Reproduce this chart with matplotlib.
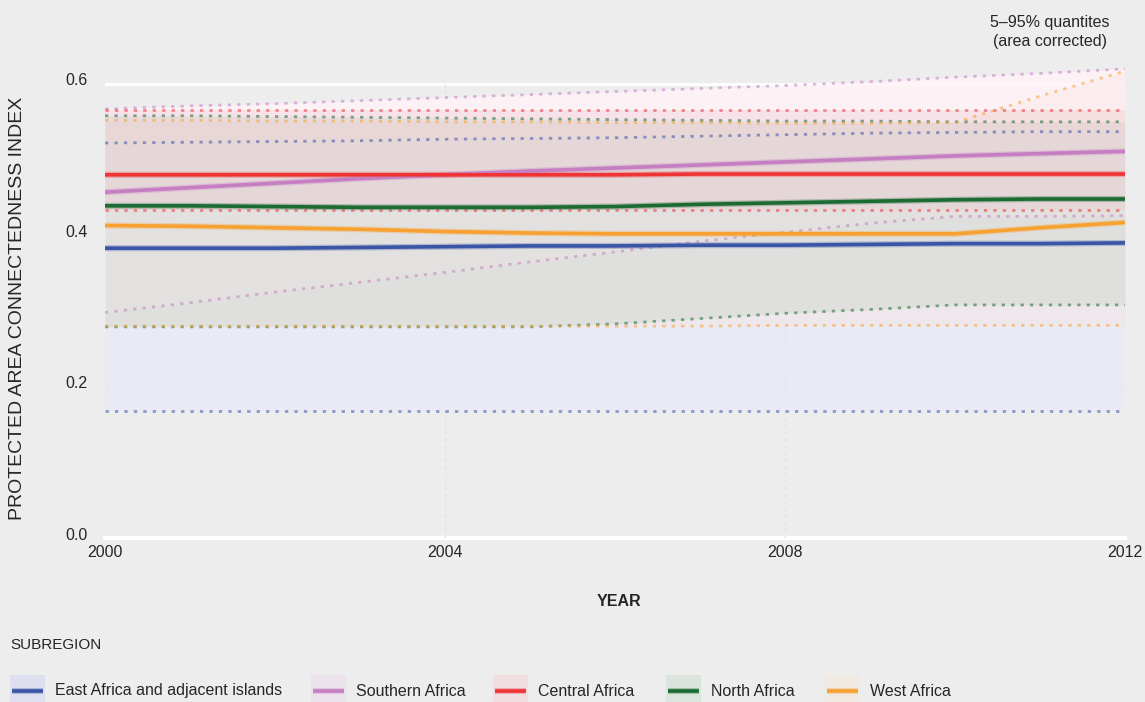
import matplotlib
matplotlib.use("Agg")
import matplotlib.pyplot as plt
import matplotlib.transforms as mtransforms
from matplotlib.patches import Rectangle
from matplotlib.lines import Line2D

plt.rcParams['font.family'] = ['Liberation Sans', 'DejaVu Sans']

# ---------------- data ----------------
years = [2000, 2001, 2002, 2003, 2004, 2005, 2006, 2007, 2008, 2009, 2010, 2011, 2012]

subregions = ["East Africa and adjacent islands", "Southern Africa", "Central Africa",
              "North Africa", "West Africa"]

east_median = [0.383, 0.383, 0.383, 0.384, 0.385, 0.386, 0.386, 0.387, 0.387, 0.388, 0.389, 0.389, 0.390]
east_p95 = [0.522, 0.523, 0.524, 0.525, 0.527, 0.528, 0.529, 0.531, 0.533, 0.535, 0.536, 0.537, 0.537]
east_p5 = [0.168, 0.168, 0.168, 0.168, 0.168, 0.168, 0.168, 0.168, 0.168, 0.168, 0.168, 0.168, 0.168]

south_median = [0.457, 0.463, 0.469, 0.475, 0.480, 0.485, 0.489, 0.493, 0.497, 0.501, 0.505, 0.508, 0.511]
south_p95 = [0.567, 0.571, 0.574, 0.578, 0.582, 0.586, 0.590, 0.594, 0.598, 0.603, 0.609, 0.614, 0.620]
south_p5 = [0.298, 0.311, 0.325, 0.338, 0.351, 0.365, 0.378, 0.392, 0.404, 0.416, 0.425, 0.425, 0.426]

central_median = [0.480, 0.480, 0.480, 0.480, 0.480, 0.480, 0.480, 0.481, 0.481, 0.481, 0.481, 0.481, 0.481]
central_p95 = [0.566, 0.566, 0.566, 0.566, 0.566, 0.566, 0.566, 0.566, 0.566, 0.566, 0.566, 0.566, 0.566]
central_p5 = [0.433, 0.433, 0.433, 0.433, 0.433, 0.433, 0.433, 0.433, 0.433, 0.433, 0.433, 0.433, 0.433]

north_median = [0.439, 0.439, 0.438, 0.437, 0.437, 0.437, 0.438, 0.441, 0.443, 0.445, 0.447, 0.448, 0.448]
north_p95 = [0.558, 0.558, 0.557, 0.556, 0.555, 0.554, 0.553, 0.552, 0.551, 0.551, 0.550, 0.550, 0.550]
north_p5 = [0.279, 0.279, 0.279, 0.279, 0.279, 0.279, 0.283, 0.290, 0.297, 0.302, 0.308, 0.308, 0.308]

west_median = [0.413, 0.412, 0.410, 0.408, 0.405, 0.403, 0.402, 0.402, 0.402, 0.402, 0.402, 0.410, 0.417]
west_p95 = [0.552, 0.552, 0.551, 0.551, 0.550, 0.550, 0.549, 0.549, 0.548, 0.548, 0.549, 0.584, 0.617]
west_p5 = [0.280, 0.280, 0.280, 0.280, 0.280, 0.280, 0.280, 0.280, 0.281, 0.281, 0.281, 0.281, 0.281]

x_ticks = [2000, 2004, 2008, 2012]
y_ticks = [0.0, 0.2, 0.4, 0.6]
y_tick_labels = ["0.0", "0.2", "0.4", "0.6"]

# ---------------- styles ----------------
line_colors = ["#3a55a6", "#c67ec2", "#ee3434", "#1c6b33", "#f8a133"]
fill_colors = [(233/255, 233/255, 253/255), (1.0, 244/255, 248/255), (235/255, 190/255, 200/255),
               (189/255, 209/255, 187/255), (250/255, 225/255, 218/255)]
fill_alphas = [0.5, 0.85, 0.3, 0.3, 0.3]
fill_order = [1, 0, 4, 3, 2]
legend_patch_colors = ["#dee0f0", "#ece2ec", "#f0dee0", "#dce4de", "#f0eae2"]

medians = [east_median, south_median, central_median, north_median, west_median]
p95s = [east_p95, south_p95, central_p95, north_p95, west_p95]
p5s = [east_p5, south_p5, central_p5, north_p5, west_p5]

BG = "#ededed"
TXT = "#262626"
W, H = 1145, 702

fig = plt.figure(figsize=(W / 100, H / 100), dpi=100, facecolor=BG)
ax = fig.add_axes([105 / W, 0.2336, 1020 / W, 0.6791])
ax.set_facecolor(BG)
ax.set_xlim(2000, 2012)
ax.set_ylim(0, 0.63)
for s in ax.spines.values():
    s.set_visible(False)

# grid
ax.axhline(0.0, color="white", lw=3, zorder=1, clip_on=False)
ax.axhline(0.6, color="white", lw=2, zorder=1)
for yv in [0.2, 0.4]:
    ax.axhline(yv, color="#e0e0e6", lw=1, ls=(0, (2, 3)), zorder=1)
for xv in [2004, 2008]:
    ax.plot([xv, xv], [0, 0.6], color="#e0e0e6", lw=1, ls=(0, (2, 3)), zorder=1)

# bands
for i in fill_order:
    ax.fill_between(years, p5s[i], p95s[i], color=fill_colors[i], alpha=fill_alphas[i],
                    lw=0, zorder=2)

# quantile dotted lines
for i in range(5):
    for q in (p95s[i], p5s[i]):
        ax.plot(years, q, color=line_colors[i], lw=2.0, ls=(0, (1.2, 2.2)), alpha=0.55,
                zorder=3, dash_capstyle="butt")

# medians
for i in range(5):
    ax.plot(years, medians[i], color=line_colors[i], lw=4.4, alpha=0.3, zorder=4,
            solid_capstyle="butt")
    ax.plot(years, medians[i], color=line_colors[i], lw=2.6, zorder=5, solid_capstyle="butt")

# ticks
ax.set_xticks(x_ticks)
ax.set_xticklabels([str(x) for x in x_ticks], fontsize=11.5, color=TXT)
ax.tick_params(axis="x", length=0, pad=5)
ax.set_yticks([])
ytrans = mtransforms.offset_copy(
    mtransforms.blended_transform_factory(fig.transFigure, ax.transData), fig=fig, x=0, y=3,
    units="dots")
for yv, lab in zip(y_ticks, y_tick_labels):
    ax.text(65 / W, yv, lab, transform=ytrans, ha="left", va="center", fontsize=11.5, color=TXT)

# axis titles
fig.text(619 / W, 1 - 601 / H, "YEAR", ha="center", va="center", fontsize=11.5,
         fontweight="bold", color=TXT)
fig.text(18 / W, 1 - 308 / H, "PROTECTED AREA CONNECTEDNESS INDEX", rotation=90,
         ha="center", va="center", fontsize=14, color=TXT)

# annotation
fig.text(1050 / W, 1 - 32 / H, "5–95% quantites\n(area corrected)", ha="center",
         va="center", fontsize=11.5, color=TXT, linespacing=1.4)

# legend
fig.text(10 / W, 1 - 645 / H, "SUBREGION", ha="left", va="center", fontsize=11, color=TXT)
patch_x = [10, 311, 493, 666, 825]
text_x = [55, 356, 538, 711, 870]
for i in range(5):
    fig.add_artist(Rectangle((patch_x[i] / W, 0), 35 / W, 27 / H, transform=fig.transFigure,
                             facecolor=legend_patch_colors[i], edgecolor="none"))
    yl = 1 - 691 / H
    fig.add_artist(Line2D([(patch_x[i] + 2) / W, (patch_x[i] + 33) / W], [yl, yl],
                          transform=fig.transFigure, color=line_colors[i], lw=4.4, alpha=0.3,
                          solid_capstyle="butt"))
    fig.add_artist(Line2D([(patch_x[i] + 2) / W, (patch_x[i] + 33) / W], [yl, yl],
                          transform=fig.transFigure, color=line_colors[i], lw=2.6,
                          solid_capstyle="butt"))
    fig.text(text_x[i] / W, yl, subregions[i], ha="left", va="center", fontsize=11.5, color=TXT)

fig.savefig("out.png", dpi=100, facecolor=BG)
